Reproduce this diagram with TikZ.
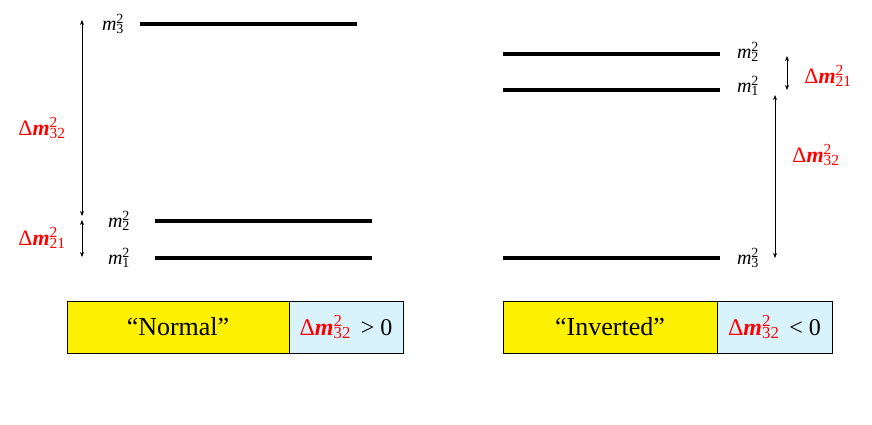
\documentclass[tikz,border=0pt]{standalone}
\usepackage{fontspec}
\setmainfont{Liberation Serif}
\usetikzlibrary{arrows.meta}
\newcommand{\msq}[1]{\textit{m}\rlap{\textsuperscript{2}}\textsubscript{#1}}
\newcommand{\dmsq}[1]{Δ\textbf{\textit{m}}\rlap{\textsuperscript{2}}\textsubscript{#1}}
\begin{document}
\begin{tikzpicture}[x=1pt,y=-1pt,
 lev/.style={line width=3.5pt},
 arr/.style={{Stealth[length=5pt,width=4pt]}-{Stealth[length=5pt,width=4pt]},line width=0.8pt},
 ml/.style={font=\fontsize{20}{22}\selectfont},
 dl/.style={font=\fontsize{22}{24}\selectfont,text=red},
 yb/.style={fill=yellow,draw=black,line width=0.6pt,font=\fontsize{26}{28}\selectfont},
 bb/.style={fill=cyan!15,draw=black,line width=0.6pt,font=\fontsize{24}{26}\selectfont}]
\useasboundingbox (0,0) rectangle (872,425);
% left
\coordinate (a3) at (140,24); \coordinate (b3) at (357,24);
\coordinate (a2) at (155,221); \coordinate (b2) at (372,221);
\coordinate (a1) at (155,258); \coordinate (b1) at (372,258);
\draw[lev] (a3)--(b3); \draw[lev] (a2)--(b2); \draw[lev] (a1)--(b1);
\node[ml] (lm3) at (113,24) {\msq{3}};
\node[ml] (lm2) at (119,221) {\msq{2}};
\node[ml] (lm1) at (119,258) {\msq{1}};
\coordinate (p1) at (82,20); \coordinate (p2) at (82,216);
\coordinate (p3) at (82,220); \coordinate (p4) at (82,257);
\draw[arr] (p1)--(p2); \draw[arr] (p3)--(p4);
\node[dl] (ld32) at (42,128) {\dmsq{32}};
\node[dl] (ld21) at (42,238) {\dmsq{21}};
\node[yb,minimum width=222pt,minimum height=52pt] (ny) at (178,327) {“Normal”};
\node[bb,minimum width=114pt,minimum height=52pt,text=red] (nb) at (346,327) {\dmsq{32}\textcolor{black}{\hspace{10pt}> 0}};
% right
\coordinate (c2) at (503,54); \coordinate (d2) at (720,54);
\coordinate (c1) at (503,90); \coordinate (d1) at (720,90);
\coordinate (c3) at (503,258); \coordinate (d3) at (720,258);
\draw[lev] (c2)--(d2); \draw[lev] (c1)--(d1); \draw[lev] (c3)--(d3);
\node[ml] (rm2) at (748,52) {\msq{2}};
\node[ml] (rm1) at (748,86) {\msq{1}};
\node[ml] (rm3) at (748,258) {\msq{3}};
\coordinate (q1) at (787,56); \coordinate (q2) at (787,90);
\coordinate (q3) at (775,95); \coordinate (q4) at (775,258);
\draw[arr] (q1)--(q2); \draw[arr] (q3)--(q4);
\node[dl] (rd21) at (828,76) {\dmsq{21}};
\node[dl] (rd32) at (816,155) {\dmsq{32}};
\node[yb,minimum width=214pt,minimum height=52pt] (iy) at (610,327) {“Inverted”};
\node[bb,minimum width=115pt,minimum height=52pt,text=red] (ib) at (774.5,327) {\dmsq{32}\textcolor{black}{\hspace{10pt}< 0}};
\end{tikzpicture}
\end{document}
